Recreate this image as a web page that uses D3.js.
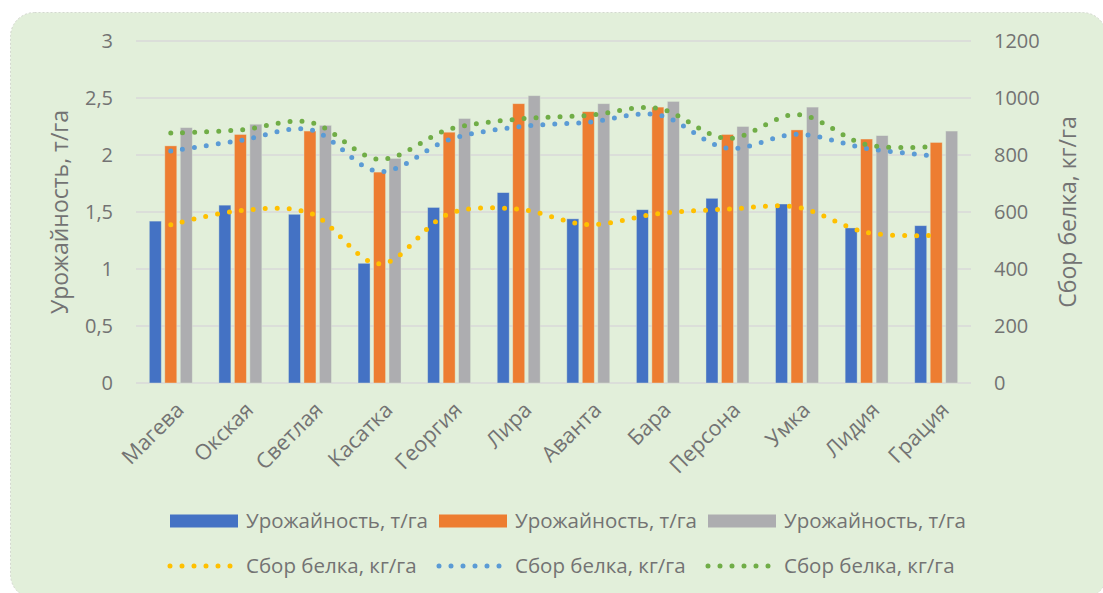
<!DOCTYPE html>
<html>
<head>
<meta charset="utf-8">
<script src="https://cdn.jsdelivr.net/npm/d3@7"></script>
<style>
  html, body { margin: 0; padding: 0; background: #ffffff; }
  svg { display: block; }
  text { font-family: "Open Sans", "Noto Sans", sans-serif; fill: #737373; }
</style>
</head>
<body>
<svg id="chart" width="1103" height="593"></svg>
<script>
// Varieties on the x axis
const categories = ["Магева", "Окская", "Светлая", "Касатка", "Георгия", "Лира",
                    "Аванта", "Бара", "Персона", "Умка", "Лидия", "Грация"];

// Yield, t/ha (three bar series)
const yield1 = [1.42, 1.56, 1.48, 1.05, 1.54, 1.67, 1.44, 1.52, 1.62, 1.57, 1.36, 1.38];
const yield2 = [2.08, 2.18, 2.21, 1.85, 2.20, 2.45, 2.38, 2.42, 2.18, 2.22, 2.14, 2.11];
const yield3 = [2.24, 2.27, 2.26, 1.97, 2.32, 2.52, 2.45, 2.47, 2.25, 2.42, 2.17, 2.21];

// Protein harvest, kg/ha (three dotted lines, right axis)
const protein1 = [555, 605, 596, 418, 594, 610, 556, 594, 610, 617, 528, 518];
const protein2 = [814, 851, 889, 742, 854, 899, 915, 941, 824, 873, 823, 796];
const protein3 = [877, 888, 915, 785, 890, 926, 939, 964, 858, 942, 836, 830];

const barLabels = ["Урожайность, т/га", "Урожайность, т/га", "Урожайность, т/га"];
const lineLabels = ["Сбор белка, кг/га", "Сбор белка, кг/га", "Сбор белка, кг/га"];

const leftTicks = [0, 0.5, 1, 1.5, 2, 2.5, 3];
const rightTicks = [0, 200, 400, 600, 800, 1000, 1200];

const leftTitle = "Урожайность, т/га";
const rightTitle = "Сбор белка, кг/га";

const barColors = ["#4472c4", "#ed7d31", "#adadb0"];
const lineColors = ["#ffc000", "#5b9bd5", "#70ad47"];

const svg = d3.select("#chart");
const plot = { left: 136, right: 971, top: 41, bottom: 383 };

// Panel background
svg.append("rect")
  .attr("x", 10.5).attr("y", 12.5)
  .attr("width", 1096).attr("height", 586)
  .attr("rx", 24).attr("ry", 24)
  .attr("fill", "#e2efda")
  .attr("stroke", "#d4d8d0")
  .attr("stroke-width", 1)
  .attr("stroke-dasharray", "2 2");

// Scales
const x0 = d3.scaleBand().domain(categories).range([plot.left, plot.right]).padding(0);
const seriesKeys = [0, 1, 2];
const x1 = d3.scaleBand().domain(seriesKeys).range([0, x0.bandwidth()])
  .paddingInner(0.226).paddingOuter(0.86);
const yL = d3.scaleLinear().domain([0, 3]).range([plot.bottom, plot.top]);
const yR = d3.scaleLinear().domain([0, 1200]).range([plot.bottom, plot.top]);

// Gridlines
svg.append("g")
  .selectAll("line")
  .data(leftTicks)
  .join("line")
  .attr("x1", plot.left).attr("x2", plot.right)
  .attr("y1", d => yL(d)).attr("y2", d => yL(d))
  .attr("stroke", "#d9d9d9")
  .attr("stroke-width", 1.5);

// Left axis
const axisL = d3.axisLeft(yL).tickValues(leftTicks)
  .tickSize(0).tickPadding(0)
  .tickFormat(d => String(d).replace(".", ","));
const gL = svg.append("g").attr("transform", `translate(${plot.left - 23},0)`).call(axisL);
gL.select(".domain").remove();
gL.selectAll("text").attr("font-size", 20).attr("fill", "#737373")
  .attr("font-family", "'Open Sans', sans-serif");

// Right axis
const axisR = d3.axisRight(yR).tickValues(rightTicks).tickSize(0).tickPadding(0)
  .tickFormat(d3.format("d"));
const gR = svg.append("g").attr("transform", `translate(${plot.right + 23},0)`).call(axisR);
gR.select(".domain").remove();
gR.selectAll("text").attr("font-size", 20).attr("fill", "#737373")
  .attr("font-family", "'Open Sans', sans-serif");

// Category labels
const gX = svg.append("g");
gX.selectAll("text")
  .data(categories)
  .join("text")
  .attr("transform", d => `translate(${x0(d) + x0.bandwidth() / 2 + 9},${plot.bottom + 23}) rotate(-45)`)
  .attr("text-anchor", "end")
  .attr("dy", "0.35em")
  .attr("font-size", 21.5)
  .text(d => d);

// Bars
const yields = [yield1, yield2, yield3];
const gBars = svg.append("g");
yields.forEach((vals, si) => {
  gBars.append("g")
    .selectAll("rect")
    .data(vals)
    .join("rect")
    .attr("x", (d, i) => x0(categories[i]) + x1(si))
    .attr("width", x1.bandwidth())
    .attr("y", d => yL(d))
    .attr("height", d => yL(0) - yL(d))
    .attr("fill", barColors[si])
    .attr("stroke", "#e2efda")
    .attr("stroke-opacity", 0.5)
    .attr("stroke-width", 0.8);
});

// Dotted smoothed lines
const proteins = [protein1, protein2, protein3];
const lineGen = d3.line()
  .x((d, i) => x0(categories[i]) + x0.bandwidth() / 2)
  .y(d => yR(d))
  .curve(d3.curveCatmullRom.alpha(0.5));
const gLines = svg.append("g");
proteins.forEach((vals, si) => {
  gLines.append("path")
    .datum(vals)
    .attr("d", lineGen)
    .attr("fill", "none")
    .attr("stroke", lineColors[si])
    .attr("stroke-width", 5)
    .attr("stroke-linecap", "round")
    .attr("stroke-dasharray", "0 12");
});

// Axis titles
svg.append("text")
  .attr("transform", `translate(60,${(plot.top + plot.bottom) / 2}) rotate(-90)`)
  .attr("text-anchor", "middle")
  .attr("dy", "0.35em")
  .attr("font-size", 23)
  .text(leftTitle);

svg.append("text")
  .attr("transform", `translate(1068,${(plot.top + plot.bottom) / 2}) rotate(-90)`)
  .attr("text-anchor", "middle")
  .attr("dy", "0.35em")
  .attr("font-size", 23)
  .text(rightTitle);

// Legend
const legendX = [170, 439, 708];
const gLeg = svg.append("g");
barLabels.forEach((lab, i) => {
  gLeg.append("rect")
    .attr("x", legendX[i]).attr("y", 514.5)
    .attr("width", 68).attr("height", 13)
    .attr("fill", barColors[i]);
  gLeg.append("text")
    .attr("x", legendX[i] + 76).attr("y", 521)
    .attr("dy", "0.35em")
    .attr("font-size", 20.5)
    .text(lab);
});
lineLabels.forEach((lab, i) => {
  gLeg.append("line")
    .attr("x1", legendX[i]).attr("x2", legendX[i] + 62)
    .attr("y1", 566).attr("y2", 566)
    .attr("stroke", lineColors[i])
    .attr("stroke-width", 5)
    .attr("stroke-linecap", "round")
    .attr("stroke-dasharray", "0 12");
  gLeg.append("text")
    .attr("x", legendX[i] + 76).attr("y", 566)
    .attr("dy", "0.35em")
    .attr("font-size", 20.5)
    .text(lab);
});
</script>
</body>
</html>
